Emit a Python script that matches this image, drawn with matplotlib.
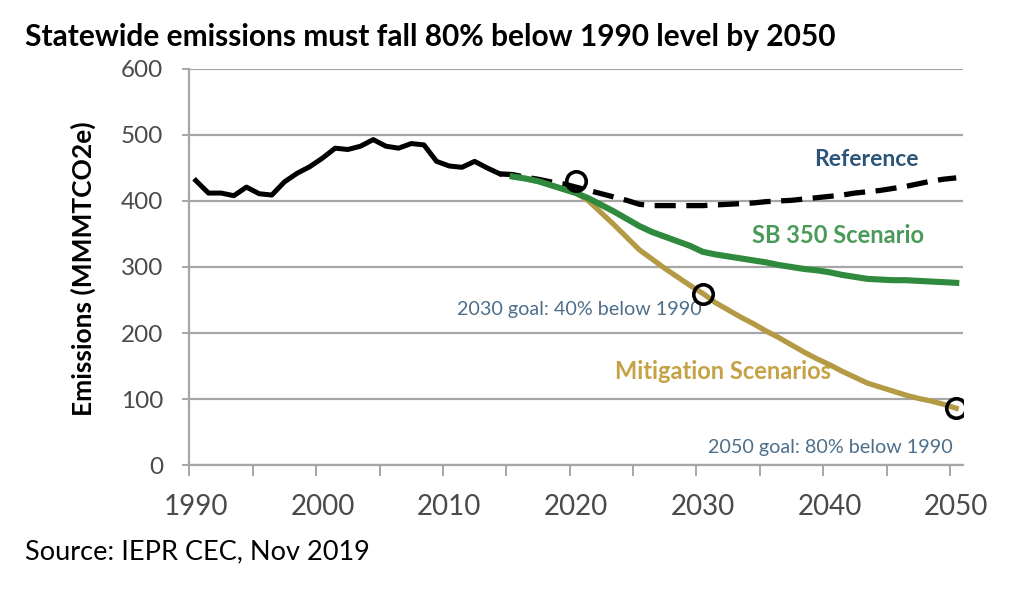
import matplotlib
matplotlib.use("Agg")
import matplotlib.pyplot as plt
from matplotlib.ticker import FixedLocator

plt.rcParams['font.family'] = ['Lato', 'DejaVu Sans']

# ---- data ----
hist_years = list(range(1990, 2015))
hist_vals = [431, 412, 412, 408, 421, 411, 409, 429, 442, 452, 465, 480, 478, 483,
             493, 483, 480, 487, 485, 460, 453, 451, 460, 450, 441]

ref_years = list(range(2014, 2051))
ref_vals = [441, 440, 436, 433, 429, 426, 421, 416, 411, 406, 401, 395, 393, 393, 393, 393,
            393, 394, 395, 396, 397, 399, 400, 401, 403, 405, 407, 409, 412, 414, 416,
            419, 422, 426, 430, 433, 435]

sb_years = list(range(2015, 2051))
sb_vals = [437, 434, 430, 424, 418, 412, 404, 394, 384, 373, 362, 353, 346, 339, 332, 323,
           319, 316, 313, 310, 307, 303, 300, 297, 295, 292, 288, 285, 282, 281, 280, 280,
           279, 278, 277, 276]

mit_years = list(range(2015, 2051))
mit_vals = [437, 434, 430, 424, 418, 412, 400, 382, 364, 345, 326, 312, 298, 285, 272, 260,
            246, 235, 224, 214, 203, 193, 182, 171, 161, 152, 142, 133, 124, 118, 112, 106,
            101, 97, 92, 86]

goal_years = [2020, 2030, 2050]
goal_vals = [431, 259, 86]

x_labels = [1990, 2000, 2010, 2020, 2030, 2040, 2050]
y_ticks = [0, 100, 200, 300, 400, 500, 600]

# ---- figure ----
fig = plt.figure(figsize=(10.24, 5.92), dpi=100)
ax = fig.add_axes([0.185, 0.2145, 0.755, 0.669])

grid_c = '#a6a6a6'
ax.set_xlim(1989.5, 2050.5)
ax.set_ylim(0, 600)
for s in ['top', 'right']:
    ax.spines[s].set_visible(False)
for s in ['left', 'bottom']:
    ax.spines[s].set_color(grid_c)
    ax.spines[s].set_linewidth(1.6)
ax.set_yticks(y_ticks)
ax.yaxis.grid(True, color=grid_c, linewidth=1.6)
ax.set_axisbelow(True)
ax.tick_params(axis='y', length=5, width=1.4, color=grid_c, labelsize=17.5,
               labelcolor='#4a4a4a', pad=14)
ax.set_xticks(x_labels)
ax.tick_params(axis='x', which='major', length=0, labelsize=20, labelcolor='#4a4a4a', pad=21)
ax.xaxis.set_minor_locator(FixedLocator([1989.5 + 5 * k for k in range(13)]))
ax.tick_params(axis='x', which='minor', length=8, width=1.4, color=grid_c, direction='out')

ax.plot(hist_years, hist_vals, color='black', lw=3.6, solid_joinstyle='round', zorder=4)
ax.plot(ref_years, ref_vals, color='black', lw=3.8, dashes=(4, 2), zorder=3)
ax.plot(mit_years, mit_vals, color='#b59a45', lw=3.8, zorder=4)
ax.plot(sb_years, sb_vals, color='#2f8a3e', lw=4.4, zorder=5)
ax.plot(goal_years, goal_vals, linestyle='none', marker='o', ms=14, mfc='none',
        mec='black', mew=2.6, zorder=6)

ax.text(2038.8, 463, 'Reference', color='#2c5577', fontsize=16.5, fontweight='bold',
        ha='left', va='center')
ax.text(2033.9, 348, 'SB 350 Scenario', color='#4a9a5a', fontsize=17, fontweight='bold',
        ha='left', va='center')
ax.text(2023.1, 142, 'Mitigation Scenarios', color='#c4a245', fontsize=17, fontweight='bold',
        ha='left', va='center')
ax.text(2029.9, 235, '2030 goal: 40% below 1990', color='#4e6f8a', fontsize=14.2,
        ha='right', va='center')
ax.text(2049.7, 27, '2050 goal: 80% below 1990', color='#4e6f8a', fontsize=14.2,
        ha='right', va='center')

ax.set_ylabel('Emissions (MMMTCO2e)', fontsize=19, fontweight='bold')
ax.yaxis.set_label_coords(-0.121, 0.495)

fig.text(0.024, 0.937, 'Statewide emissions must fall 80% below 1990 level by 2050',
         fontsize=21.5, fontweight='bold', ha='left', va='center')
fig.text(0.024, 0.068, 'Source: IEPR CEC, Nov 2019', fontsize=19.5, ha='left', va='center')

fig.savefig('out.png', dpi=100, facecolor='white')
